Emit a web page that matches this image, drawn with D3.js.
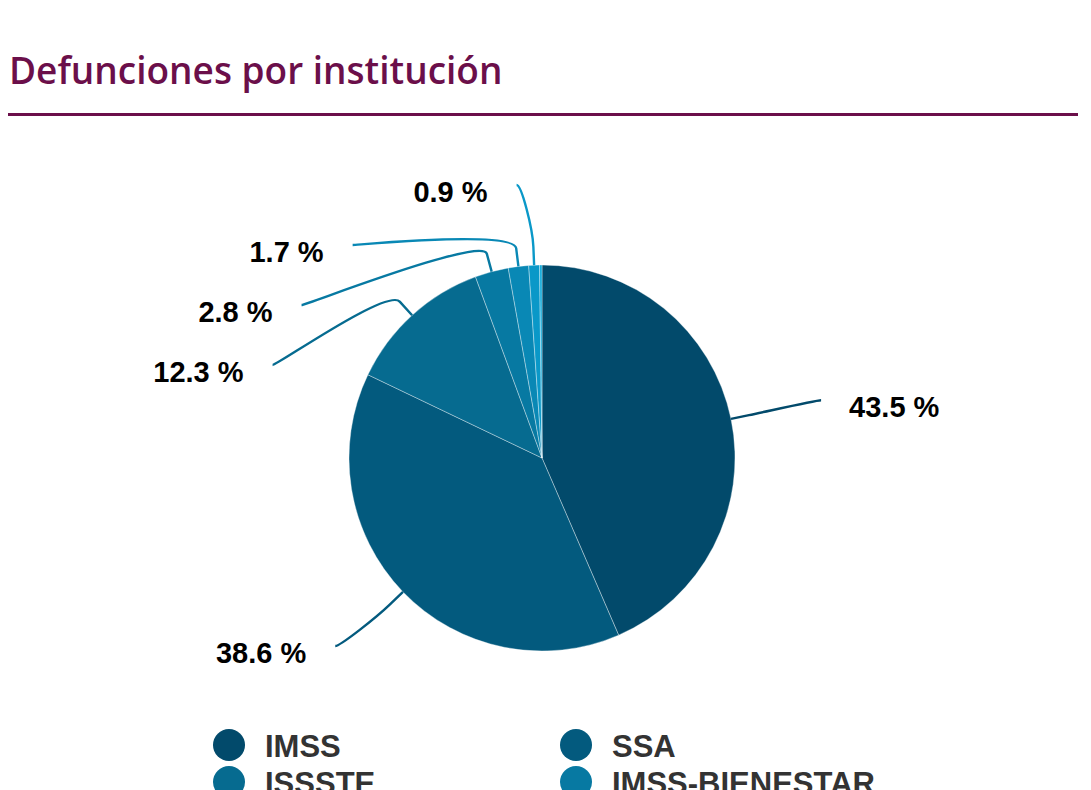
<!DOCTYPE html>
<html>
<head>
<meta charset="utf-8">
<script src="https://cdn.jsdelivr.net/npm/d3@7"></script>
<style>
  body { margin: 0; background: #fff; }
  #chart svg { display: block; }
</style>
</head>
<body>
<div id="chart"></div>
<script>
// data
var categories = ["IMSS", "SSA", "ISSSTE", "IMSS-BIENESTAR", "PEMEX", "SEDENA", "SEMAR"];
var values = [43.5, 38.6, 12.3, 2.8, 1.7, 0.9, 0.2];
var colors = ["#024a6b", "#035a7e", "#066b90", "#0779a2", "#0988b5", "#0a98c8", "#0da8d9"];
var titleText = "Defunciones por institución";

var width = 1091, height = 790;
var cx = 542, cy = 458, radius = 193;
var labelDist = 92, labelR = radius + labelDist;
var labelGap = 60, topBound = 185, bottomBound = 646;

var svg = d3.select("#chart").append("svg").attr("width", width).attr("height", height);

// title + rule
svg.append("text")
  .attr("x", 9).attr("y", 84)
  .style("font-family", "'Open Sans', sans-serif")
  .style("font-weight", 600)
  .style("font-size", "37px")
  .style("fill", "#6b0f4a")
  .text(titleText);

svg.append("rect")
  .attr("x", 8).attr("y", 113).attr("width", 1070).attr("height", 3)
  .style("fill", "#6b0f4a");

var data = categories.map(function(c, i){ return {name: c, value: values[i], color: colors[i], index: i}; });

var pie = d3.pie().sort(null).value(function(d){ return d.value; });
var arcs = pie(data);
var arc = d3.arc().innerRadius(0).outerRadius(radius);

var g = svg.append("g").attr("transform", "translate(" + cx + "," + cy + ")");

g.selectAll("path.slice")
  .data(arcs)
  .enter().append("path")
  .attr("class", "slice")
  .attr("d", arc)
  .style("fill", function(d){ return d.data.color; })
  .style("stroke", "#ffffff")
  .style("stroke-opacity", 0.45)
  .style("stroke-width", 0.8);

// label layout: natural position, then push apart on each side
var labels = arcs.filter(function(d){ return d.data.value >= 0.5; }).map(function(d){
  var a = (d.startAngle + d.endAngle) / 2;
  var s = Math.sin(a), c = Math.cos(a);
  return {
    d: d,
    left: s < 0,
    sin: s, cos: c,
    nx: cx + labelR * s,
    ny: cy - labelR * c
  };
});

[true, false].forEach(function(side){
  var list = labels.filter(function(l){ return l.left === side; })
    .sort(function(a, b){ return a.ny - b.ny; });
  var prev = -Infinity;
  list.forEach(function(l){
    var y = Math.max(l.ny, topBound, prev + labelGap);
    y = Math.min(y, bottomBound);
    l.y = y;
    prev = y;
    var dy = l.y - cy;
    var dx = Math.sqrt(Math.max(0, labelR * labelR - dy * dy));
    var circleX = cx + (side ? -dx : dx);
    var t = Math.min(1, Math.abs(l.y - l.ny) / 60);
    l.x = l.nx + (circleX - l.nx) * t;
  });
});

var conn = labelDist / 5;

labels.forEach(function(l){
  var tx = cx + radius * l.sin, ty = cy - radius * l.cos;
  var bx = cx + (radius + conn) * l.sin, by = cy - (radius + conn) * l.cos;
  var p = d3.path();
  p.moveTo(l.x, l.y);
  p.bezierCurveTo(l.x + (l.left ? 5 : -5), l.y, 2 * bx - tx, 2 * by - ty, bx, by);
  p.lineTo(tx, ty);
  svg.append("path")
    .attr("d", p.toString())
    .style("fill", "none")
    .style("stroke", l.d.data.color)
    .style("stroke-width", 2.4);

  svg.append("text")
    .attr("x", l.left ? l.x - 29 : l.x + 28)
    .attr("y", l.y + 17)
    .attr("text-anchor", l.left ? "end" : "start")
    .style("font-family", "'Liberation Sans', Arial, sans-serif")
    .style("font-weight", "bold")
    .style("font-size", "29px")
    .style("fill", "#000")
    .text(d3.format(".1f")(l.d.data.value) + " %");
});

// legend
var legend = svg.append("g");
var item = legend.selectAll("g.item")
  .data(data)
  .enter().append("g")
  .attr("class", "item")
  .attr("transform", function(d, i){
    return "translate(" + (229 + (i % 2) * 347) + "," + (745 + Math.floor(i / 2) * 37) + ")";
  });

item.append("circle")
  .attr("r", 16)
  .style("fill", function(d){ return d.color; });

item.append("text")
  .attr("x", 36).attr("y", 12)
  .style("font-family", "'Liberation Sans', Arial, sans-serif")
  .style("font-weight", "bold")
  .style("font-size", "31px")
  .style("fill", "#333")
  .text(function(d){ return d.name; });
</script>
</body>
</html>
